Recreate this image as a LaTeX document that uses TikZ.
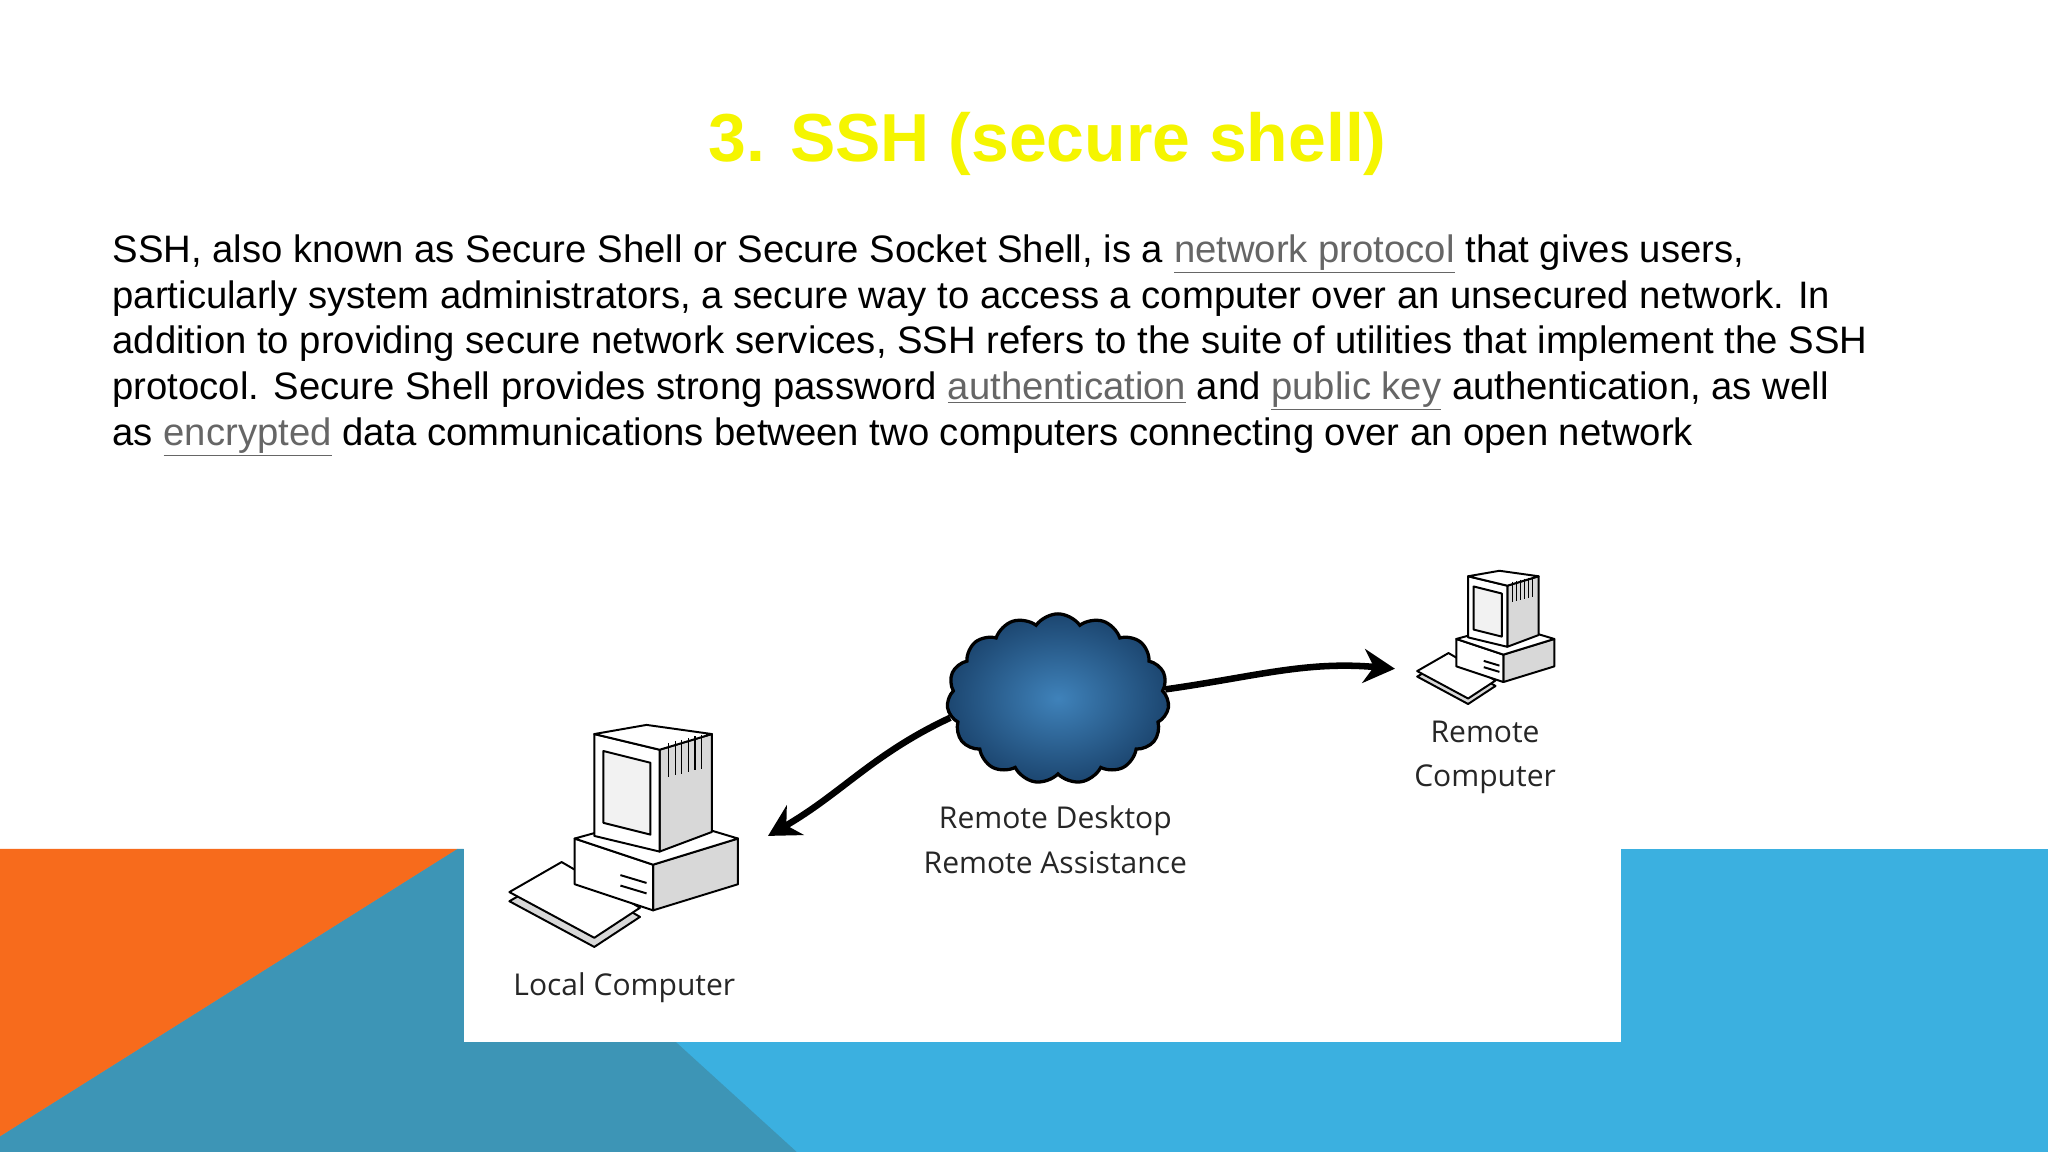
\documentclass[tikz,border=0pt]{standalone}
\usepackage{fontspec}
\setmainfont{Liberation Sans}
\newfontfamily\lblfont{Open Sans}
\usetikzlibrary{shapes.symbols,arrows.meta}
\definecolor{ttl}{HTML}{F5F500}
\definecolor{lnkg}{HTML}{666666}
\definecolor{orng}{HTML}{F76B1C}
\definecolor{teal}{HTML}{3D95B6}
\definecolor{lblue}{HTML}{3BB0E0}
\definecolor{pcgray}{HTML}{D8D8D8}
\definecolor{cin}{HTML}{3F82BA}
\definecolor{cout}{HTML}{1C4670}
\newcommand{\lnk}[1]{{\color{lnkg}\underline{#1}}}
\tikzset{
  body/.style={anchor=base west,inner sep=0pt,font=\fontsize{29.3}{33}\selectfont},
  lbl/.style={inner sep=0pt,font=\lblfont\fontsize{23}{34}\selectfont,align=center,text=black!85},
  pcpart/.style={draw=black,line width=1.5pt,line join=round,fill=white},
  conn/.style={line width=5pt,-{Stealth[length=24pt,width=26pt]}},
  pics/pc/.style={code={
    \draw[pcpart,fill=pcgray] (0,135)--(40,112)--(100,147)--(65,170)--cycle;
    \draw[pcpart] (0,128)--(40,105)--(100,140)--(65,163)--cycle;
    \draw[pcpart,fill=pcgray] (110,107)--(175,87)--(175,122)--(110,142)--cycle;
    \draw[pcpart] (50,87)--(110,107)--(110,142)--(50,122)--cycle;
    \draw[pcpart] (50,87)--(115,69)--(175,87)--(110,107)--cycle;
    \draw[line width=1.5pt] (85,115)--(105,121) (85,123)--(105,129);
    \draw[pcpart,fill=pcgray] (115,19)--(155,7)--(155,82)--(115,97)--cycle;
    \draw[pcpart] (65,7)--(115,19)--(115,97)--(65,85)--cycle;
    \draw[pcpart] (65,7)--(105,0)--(155,7)--(115,19)--cycle;
    \draw[pcpart,fill=black!5] (72,20)--(108,29)--(108,84)--(72,75)--cycle;
    \foreach \i in {0,...,5}{\draw[line width=1pt] (122+5*\i,14-1.3*\i)--(122+5*\i,40-1.3*\i);}
  }}
}
\begin{document}
\begin{tikzpicture}[x=1pt,y=-1pt]
\useasboundingbox (0,0) rectangle (1568,882);
\fill[white] (0,0) rectangle (1568,882);
\fill[lblue] (0,650) rectangle (1568,882);
\fill[teal] (350,650)--(0,870)--(0,882)--(610,882)--(355,650)--cycle;
\fill[orng] (0,650)--(350,650)--(0,870)--cycle;
\fill[white] (355,650) rectangle (1241,798);
\node[inner sep=0pt,text=ttl,font=\bfseries\fontsize{52}{60}\selectfont] (title) at (802,110) {3. SSH (secure shell)};
\node[body] (l1) at (86,201) {SSH, also known as Secure Shell or Secure Socket Shell, is a \lnk{network protocol} that gives users,};
\node[body] (l2) at (86,236) {particularly system administrators, a secure way to access a computer over an unsecured network. In};
\node[body] (l3) at (86,271) {addition to providing secure network services, SSH refers to the suite of utilities that implement the SSH};
\node[body] (l4) at (86,306) {protocol. Secure Shell provides strong password \lnk{authentication} and \lnk{public key} authentication, as well};
\node[body] (l5) at (86,341) {as \lnk{encrypted} data communications between two computers connecting over an open network};
\pic at (390,555) {pc};
\pic[scale=0.6] at (1085,437) {pc};
\coordinate (localpc) at (588,640);
\coordinate (remotepc) at (1068,512);
\node[cloud,cloud puffs=15,cloud puff arc=110,aspect=1.25,minimum width=170pt,minimum height=130pt,
  draw=black,line width=2.5pt,inner color=cin,outer color=cout,
  shading=radial] (cloud) at (810,535) {};
\draw[conn] (cloud.190) to[out=205,in=30] (localpc);
\draw[conn] (cloud.5) to[out=8,in=175] (remotepc);
\node[lbl] (rd) at (808,643) {Remote Desktop\\Remote Assistance};
\node[lbl] (rc) at (1137,580) {Remote\\Computer};
\node[lbl] (lc) at (478,756) {Local Computer};
\end{tikzpicture}
\end{document}
